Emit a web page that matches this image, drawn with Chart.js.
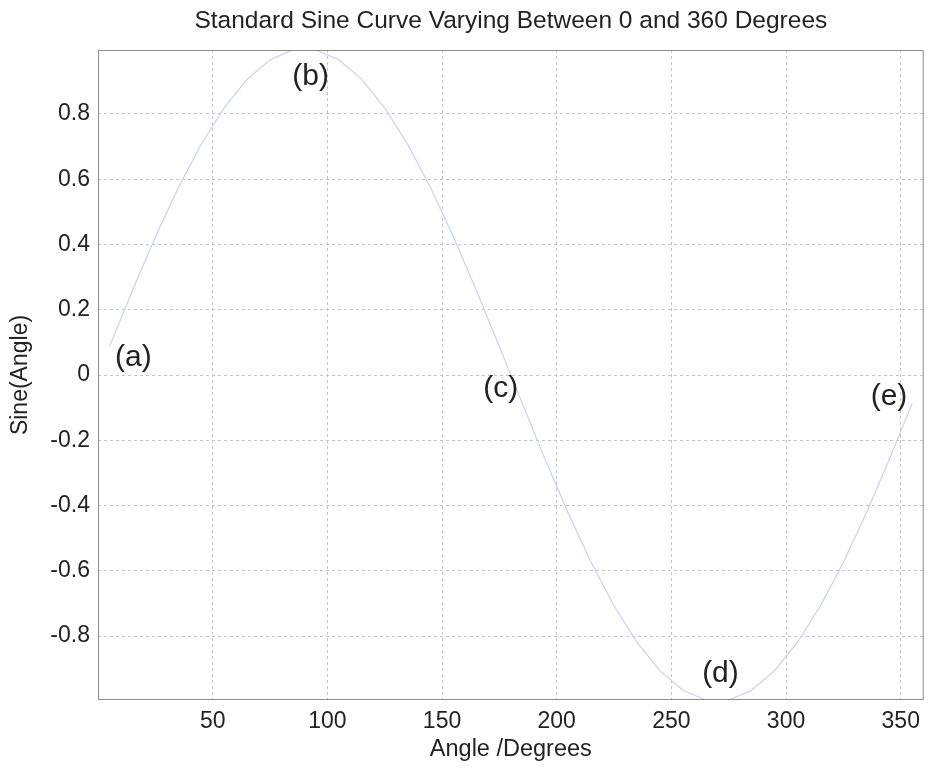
<!DOCTYPE html>
<html>
<head>
<meta charset="utf-8">
<script src="https://cdn.jsdelivr.net/npm/chart.js@4"></script>
<style>
  body { margin: 0; background: #fff; }
  #wrap { width: 928px; height: 768px; }
</style>
</head>
<body>
<div id="wrap"><canvas id="myChart" width="928" height="768"></canvas></div>
<script>
'use strict'
// angle samples (degrees) and sine
let angles = [5, 15, 25, 35, 45, 55, 65, 75, 85, 95, 105, 115, 125, 135, 145, 155, 165, 175,
    185, 195, 205, 215, 225, 235, 245, 255, 265, 275, 285, 295, 305, 315, 325, 335, 345, 355];
let sineVals = [0.087, 0.259, 0.423, 0.574, 0.707, 0.819, 0.906, 0.966, 0.996,
    0.996, 0.966, 0.906, 0.819, 0.707, 0.574, 0.423, 0.259, 0.087,
    -0.087, -0.259, -0.423, -0.574, -0.707, -0.819, -0.906, -0.966, -0.996,
    -0.996, -0.966, -0.906, -0.819, -0.707, -0.574, -0.423, -0.259, -0.087];

let xTicks = [50, 100, 150, 200, 250, 300, 350];
let yTicks = [-0.8, -0.6, -0.4, -0.2, 0, 0.2, 0.4, 0.6, 0.8];

// point labels (a)..(e)
let noteText = ['(a)', '(b)', '(c)', '(d)', '(e)'];
let noteX = [15.4, 92.7, 175.6, 271.4, 344.9];
let noteY = [0.052, 0.914, -0.043, -0.916, -0.066];

let chartTitle = 'Standard Sine Curve Varying Between 0 and 360 Degrees';

let points = [];
for (let i = 0; i < angles.length; i++) {
    points.push({ x: angles[i], y: sineVals[i] });
}

let fontFam = 'Arial, "Liberation Sans", sans-serif';

let frameAndNotes = {
    id: 'frameAndNotes',
    afterDraw(chart) {
        let ctx = chart.ctx;
        let a = chart.chartArea;
        ctx.save();
        ctx.setLineDash([]);
        ctx.strokeStyle = '#8c8c8c';
        ctx.lineWidth = 1;
        ctx.strokeRect(a.left + 0.5, a.top + 0.5, a.right - a.left - 1, a.bottom - a.top - 1);

        ctx.fillStyle = '#222';
        ctx.textAlign = 'center';
        ctx.textBaseline = 'middle';

        // title centred over the plot area
        ctx.font = '24.5px ' + fontFam;
        ctx.fillText(chartTitle, (a.left + a.right) / 2, 21);

        ctx.font = '30px ' + fontFam;
        for (let i = 0; i < noteText.length; i++) {
            let px = chart.scales.x.getPixelForValue(noteX[i]);
            let py = chart.scales.y.getPixelForValue(noteY[i]);
            ctx.fillText(noteText[i], px, py);
        }
        ctx.restore();
    }
};

let ctx = document.getElementById('myChart').getContext('2d');
let myChart = new Chart(ctx, {
    type: 'line',
    data: {
        datasets: [{
            data: points,
            borderColor: '#c6d2ec',
            borderWidth: 1.2,
            pointRadius: 0,
            tension: 0,
            fill: false
        }]
    },
    options: {
        responsive: false,
        animation: false,
        layout: { padding: { left: 0, right: 3, top: 50, bottom: 0 } },
        plugins: {
            legend: { display: false },
            tooltip: { enabled: false },
            title: { display: false }
        },
        scales: {
            x: {
                type: 'linear',
                min: 0,
                max: 360,
                afterBuildTicks(scale) {
                    scale.ticks = xTicks.map(v => ({ value: v }));
                },
                afterFit(scale) {
                    scale.height = 68;
                },
                grid: {
                    color: '#c4c4c4',
                    drawTicks: false
                },
                border: { display: false, dash: [3, 3] },
                ticks: {
                    color: '#222',
                    font: { family: fontFam, size: 23 },
                    padding: 8,
                    maxRotation: 0,
                    autoSkip: false
                },
                title: {
                    display: true,
                    text: 'Angle /Degrees',
                    color: '#222',
                    font: { family: fontFam, size: 23.5 },
                    padding: { top: 0, bottom: 4 }
                }
            },
            y: {
                type: 'linear',
                min: -0.996,
                max: 0.996,
                afterBuildTicks(scale) {
                    scale.ticks = yTicks.map(v => ({ value: v }));
                },
                afterFit(scale) {
                    scale.width = 98;
                },
                grid: {
                    color: '#c4c4c4',
                    drawTicks: false
                },
                border: { display: false, dash: [3, 3] },
                ticks: {
                    color: '#222',
                    font: { family: fontFam, size: 23 },
                    padding: 8,
                    callback: v => String(Math.round(v * 10) / 10)
                },
                title: {
                    display: true,
                    text: 'Sine(Angle)',
                    color: '#222',
                    font: { family: fontFam, size: 23 },
                    padding: { top: 7, bottom: 0 }
                }
            }
        }
    },
    plugins: [frameAndNotes]
});
</script>
</body>
</html>
